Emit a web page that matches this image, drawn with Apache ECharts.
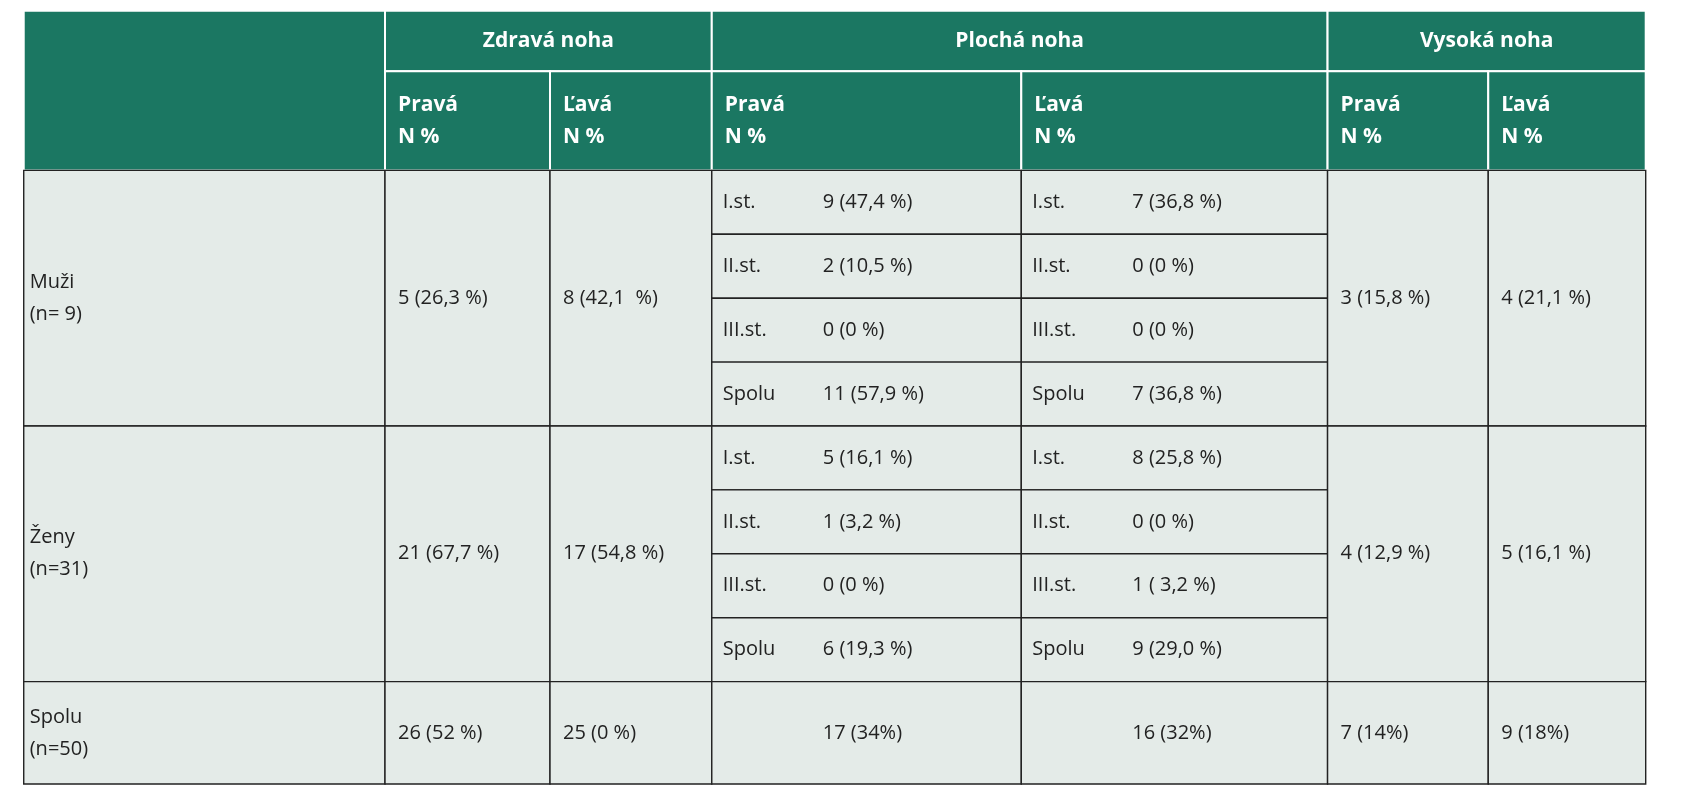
<!DOCTYPE html>
<html><head><meta charset="utf-8">
<script src="https://cdn.jsdelivr.net/npm/echarts@6/dist/echarts.min.js"></script>
<style>html,body{margin:0;padding:0;background:#fff}#c{width:1691px;height:800px}</style>
</head><body><div id="c"></div>
<script>
// ---- data ----
var groups = ["Zdravá noha", "Plochá noha", "Vysoká noha"];
var sides = ["Pravá", "Ľavá"];
var unitLabel = "N %";
var rowLabels = [["Muži", "(n= 9)"], ["Ženy", "(n=31)"], ["Spolu", "(n=50)"]];
var gradeLabels = ["I.st.", "II.st.", "III.st.", "Spolu"];
var healthyRight = ["5 (26,3 %)", "21 (67,7 %)", "26 (52 %)"];
var healthyLeft = ["8 (42,1  %)", "17 (54,8 %)", "25 (0 %)"];
var flatRightMen = ["9 (47,4 %)", "2 (10,5 %)", "0 (0 %)", "11 (57,9 %)"];
var flatLeftMen = ["7 (36,8 %)", "0 (0 %)", "0 (0 %)", "7 (36,8 %)"];
var flatRightWomen = ["5 (16,1 %)", "1 (3,2 %)", "0 (0 %)", "6 (19,3 %)"];
var flatLeftWomen = ["8 (25,8 %)", "0 (0 %)", "1 ( 3,2 %)", "9 (29,0 %)"];
var flatTotal = ["17 (34%)", "16 (32%)"];
var highRight = ["3 (15,8 %)", "4 (12,9 %)", "7 (14%)"];
var highLeft = ["4 (21,1 %)", "5 (16,1 %)", "9 (18%)"];

// ---- layout ----
var S = 1691 / 1568;
var X = [22, 357, 510, 660, 947, 1231, 1380, 1526].map(function(v){return v*S;});
var Y = [10, 66, 158, 395, 632, 727].map(function(v){return v*S;});
var HEAD = '#1b7762', BODY = '#e4ebe8';
var cells = [];
function cell(x0, x1, y0, y1, head, texts) {
  cells.push({x0:x0,x1:x1,y0:y0,y1:y1,head:head,texts:texts});
}
cell(X[0], X[1], Y[0], Y[2], true, []);
cell(X[1], X[3], Y[0], Y[1], true, [{t:groups[0], c:true}]);
cell(X[3], X[5], Y[0], Y[1], true, [{t:groups[1], c:true}]);
cell(X[5], X[7], Y[0], Y[1], true, [{t:groups[2], c:true}]);
for (var k = 0; k < 6; k++) {
  cell(X[k+1], X[k+2], Y[1], Y[2], true, [{t:sides[k%2] + "\n" + unitLabel, dx:13}]);
}
var flatR = [flatRightMen, flatRightWomen], flatL = [flatLeftMen, flatLeftWomen];
for (var r = 0; r < 3; r++) {
  var y0 = Y[r+2], y1 = Y[r+3];
  cell(X[0], X[1], y0, y1, false, [{t:rowLabels[r].join("\n"), dx:6}]);
  cell(X[1], X[2], y0, y1, false, [{t:healthyRight[r], dx:13}]);
  cell(X[2], X[3], y0, y1, false, [{t:healthyLeft[r], dx:13}]);
  if (r < 2) {
    var h = (y1 - y0) / 4;
    for (var g = 0; g < 4; g++) {
      var a = y0 + g*h, b = a + h;
      cell(X[3], X[4], a, b, false, [{t:gradeLabels[g], dx:11}, {t:flatR[r][g], dx:111}]);
      cell(X[4], X[5], a, b, false, [{t:gradeLabels[g], dx:11}, {t:flatL[r][g], dx:111}]);
    }
  } else {
    cell(X[3], X[4], y0, y1, false, [{t:flatTotal[0], dx:111}]);
    cell(X[4], X[5], y0, y1, false, [{t:flatTotal[1], dx:111}]);
  }
  cell(X[5], X[6], y0, y1, false, [{t:highRight[r], dx:13}]);
  cell(X[6], X[7], y0, y1, false, [{t:highLeft[r], dx:13}]);
}

var chart = echarts.init(document.getElementById('c'));
chart.setOption({
  animation: false,
  grid: {left:0, right:0, top:0, bottom:0},
  xAxis: {type:'value', min:0, max:1691, show:false},
  yAxis: {type:'value', min:0, max:800, inverse:true, show:false},
  series: [{
    type: 'custom',
    coordinateSystem: 'cartesian2d',
    data: cells.map(function(c, i){ return [c.x0, c.y0, c.x1, c.y1, i]; }),
    encode: {x:[0,2], y:[1,3]},
    renderItem: function(params, api) {
      var c = cells[api.value(4)];
      var p0 = api.coord([api.value(0), api.value(1)]);
      var p1 = api.coord([api.value(2), api.value(3)]);
      var ch = [{
        type:'rect',
        shape:{x:p0[0], y:p0[1], width:p1[0]-p0[0], height:p1[1]-p0[1]},
        style:{fill: c.head ? HEAD : BODY, stroke: c.head ? '#ffffff' : '#222222', lineWidth: c.head ? 2 : 1.4}
      }];
      c.texts.forEach(function(t){
        ch.push({
          type:'text',
          style:{
            text:t.t,
            x: t.c ? (p0[0]+p1[0])/2 : p0[0]+t.dx,
            y: (p0[1]+p1[1])/2,
            align: t.c ? 'center' : 'left',
            verticalAlign:'middle',
            fill: c.head ? '#ffffff' : '#222222',
            font: (c.head ? 'bold 21px ' : '20px ') + '"Open Sans", sans-serif',
            lineHeight: 32
          }
        });
      });
      return {type:'group', children: ch};
    }
  }]
});
</script></body></html>
